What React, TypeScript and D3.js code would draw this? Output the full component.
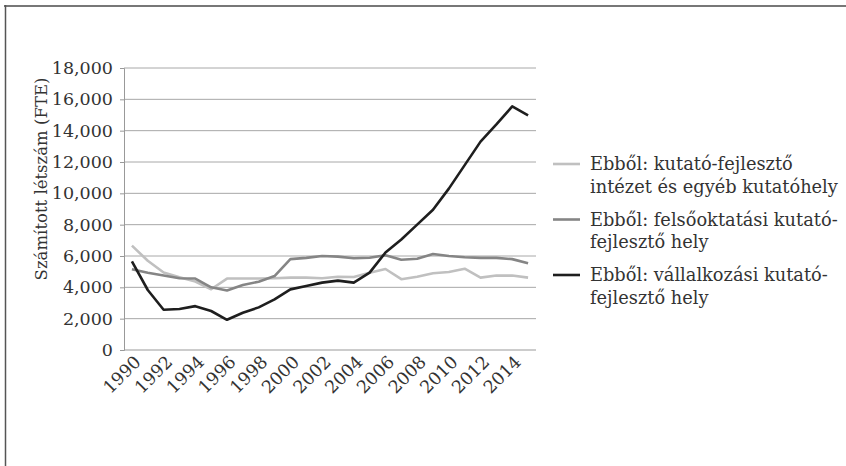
import React, { useRef, useEffect } from 'react'
import * as d3 from 'd3'

const years = d3.range(1990, 2016)

const intezet = [6660, 5700, 4950, 4650, 4370, 3880, 4560, 4560, 4560, 4580, 4620, 4620, 4580, 4680, 4660, 4930, 5170, 4520, 4680, 4900, 4980, 5190, 4620, 4750, 4750, 4620]
const felsooktatas = [5150, 4930, 4750, 4580, 4560, 4000, 3800, 4150, 4360, 4720, 5800, 5880, 6000, 5960, 5860, 5890, 6050, 5760, 5820, 6130, 6000, 5920, 5880, 5880, 5800, 5540]
const vallalkozas = [5650, 3830, 2570, 2620, 2800, 2490, 1930, 2380, 2720, 3230, 3870, 4080, 4300, 4430, 4300, 4940, 6220, 7050, 8000, 8950, 10300, 11800, 13300, 14400, 15550, 14980]

const seriesNames = [
  ['Ebből: kutató-fejlesztő', 'intézet és egyéb kutatóhely'],
  ['Ebből: felsőoktatási kutató-', 'fejlesztő hely'],
  ['Ebből: vállalkozási kutató-', 'fejlesztő hely'],
]
const seriesColors = ['#c0c0c0', '#858585', '#1e1e1e']
const yTicks = d3.range(0, 18001, 2000)
const yTitle = 'Számított létszám (FTE)'

const FONT = '"DejaVu Serif", serif'

export default function App() {
  const ref = useRef<SVGSVGElement>(null)

  useEffect(() => {
    const svg = d3.select(ref.current)
    svg.selectAll('*').remove()

    const left = 124
    const right = 536
    const top = 68
    const bottom = 350

    // frame
    svg.append('line').attr('x1', 4).attr('x2', 846).attr('y1', 6).attr('y2', 6)
      .attr('stroke', '#777').attr('stroke-width', 2)
    svg.append('line').attr('x1', 5.5).attr('x2', 5.5).attr('y1', 5).attr('y2', 466)
      .attr('stroke', '#555').attr('stroke-width', 1.5)

    const x = d3.scalePoint<number>().domain(years).range([left, right]).padding(0.5)
    const y = d3.scaleLinear().domain([0, 18000]).range([bottom, top])

    // grid
    svg.append('g').selectAll('line').data(yTicks.filter(d => d > 0)).enter()
      .append('line')
      .attr('x1', left).attr('x2', right)
      .attr('y1', d => y(d)).attr('y2', d => y(d))
      .attr('stroke', '#a8a8a8').attr('stroke-width', 1)

    // y axis
    const yAxis = d3.axisLeft(y).tickValues(yTicks).tickSize(4).tickPadding(7)
      .tickFormat(d => d3.format(',')(d as number))
    const yg = svg.append('g').attr('transform', `translate(${left},0)`).call(yAxis)
    yg.select('.domain').attr('stroke', '#999')
    yg.selectAll('line').attr('stroke', '#999')
    yg.selectAll('text').attr('font-family', FONT).attr('font-size', 17.5).attr('fill', '#333')

    // x axis
    svg.append('line').attr('x1', left).attr('x2', right).attr('y1', bottom).attr('y2', bottom)
      .attr('stroke', '#999')
    svg.append('g').selectAll('text').data(years.filter(d => d % 2 === 0)).enter()
      .append('text')
      .attr('x', d => (x(d) as number) + 10)
      .attr('y', bottom + 13)
      .attr('transform', d => `rotate(-45 ${(x(d) as number) + 10} ${bottom + 13})`)
      .attr('text-anchor', 'end')
      .attr('font-family', FONT).attr('font-size', 17.5).attr('fill', '#333')
      .text(d => String(d))

    // y title
    svg.append('text')
      .attr('transform', `translate(47,179) rotate(-90)`)
      .attr('text-anchor', 'middle')
      .attr('font-family', FONT).attr('font-size', 16.5).attr('fill', '#333')
      .text(yTitle)

    // lines
    const line = d3.line<number>().x((d, i) => x(years[i]) as number).y(d => y(d))
    const allSeries = [intezet, felsooktatas, vallalkozas]
    allSeries.forEach((s, i) => {
      svg.append('path').attr('d', line(s)).attr('fill', 'none')
        .attr('stroke', seriesColors[i]).attr('stroke-width', 2.6)
        .attr('stroke-linejoin', 'round')
    })

    // legend
    const lg = svg.append('g')
    seriesNames.forEach((lines, i) => {
      const ly = 164 + i * 55.5
      lg.append('line').attr('x1', 553).attr('x2', 580).attr('y1', ly).attr('y2', ly)
        .attr('stroke', seriesColors[i]).attr('stroke-width', 2.6)
      lines.forEach((t, j) => {
        lg.append('text').attr('x', 590).attr('y', ly + 6 + j * 22.5)
          .attr('font-family', FONT).attr('font-size', 17.8).attr('fill', '#333')
          .text(t)
      })
    })
  }, [])

  return (
    <svg ref={ref} width={846} height={466}
      style={{ position: 'absolute', left: 0, top: 0, background: '#fff' }} />
  )
}
